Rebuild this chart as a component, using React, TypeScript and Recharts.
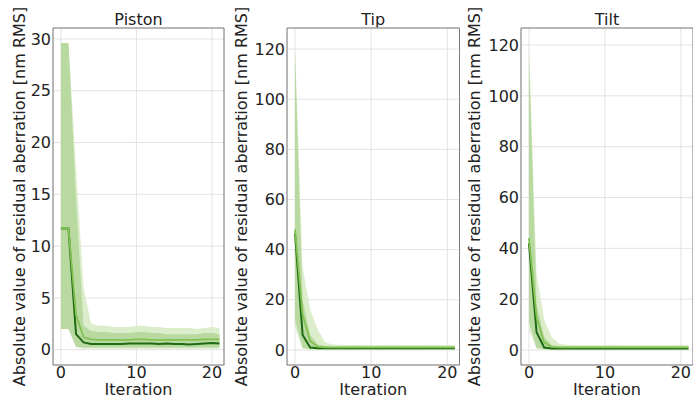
import { ComposedChart, Area, Line, XAxis, YAxis, CartesianGrid, ReferenceArea } from 'recharts'

const FONT = '"DejaVu Sans", sans-serif'
const TEXT = '#222222'
const Y_LABEL = 'Absolute value of residual aberration [nm RMS]'

const iterations = [0, 1, 2, 3, 4, 5, 6, 7, 8, 9, 10, 11, 12, 13, 14, 15, 16, 17, 18, 19, 20, 21]
const xTicks = [0, 10, 20]

// Piston
const pistonMedian = [11.7, 11.7, 1.5, 0.7, 0.55, 0.55, 0.55, 0.55, 0.55, 0.6, 0.6, 0.6, 0.6, 0.55, 0.6, 0.55, 0.55, 0.5, 0.55, 0.6, 0.65, 0.6]
const pistonMean = [11.7, 11.7, 3.4, 1.2, 1.0, 0.95, 0.95, 0.95, 0.95, 0.95, 1.0, 1.0, 0.95, 0.95, 0.95, 0.95, 0.95, 0.95, 0.95, 1.0, 1.0, 1.0]
const pistonInnerLo = [2.0, 2.0, 0.3, 0.2, 0.2, 0.2, 0.2, 0.2, 0.2, 0.2, 0.2, 0.2, 0.2, 0.2, 0.2, 0.2, 0.2, 0.2, 0.2, 0.2, 0.2, 0.2]
const pistonInnerHi = [29.6, 29.6, 14.5, 2.3, 1.8, 1.7, 1.7, 1.6, 1.6, 1.6, 1.7, 1.7, 1.6, 1.6, 1.5, 1.5, 1.5, 1.5, 1.5, 1.6, 1.6, 1.5]
const pistonOuterLo = [2.0, 2.0, 0.2, 0.1, 0.1, 0.1, 0.1, 0.1, 0.1, 0.1, 0.1, 0.1, 0.1, 0.1, 0.1, 0.1, 0.1, 0.1, 0.1, 0.1, 0.1, 0.1]
const pistonOuterHi = [29.6, 29.6, 17.5, 6.0, 2.5, 2.3, 2.3, 2.2, 2.2, 2.2, 2.3, 2.3, 2.2, 2.2, 2.1, 2.1, 2.1, 2.1, 2.0, 2.1, 2.2, 2.1]
const pistonTicks = [0, 5, 10, 15, 20, 25, 30]

// Tip
const tipMedian = [46.5, 6.0, 1.0, 0.7, 0.7, 0.7, 0.7, 0.7, 0.7, 0.7, 0.7, 0.7, 0.7, 0.7, 0.7, 0.7, 0.7, 0.7, 0.7, 0.7, 0.7, 0.7]
const tipMean = [48.0, 14.0, 3.5, 1.3, 1.0, 1.0, 1.0, 1.0, 1.0, 1.0, 1.0, 1.0, 1.0, 1.0, 1.0, 1.0, 1.0, 1.0, 1.0, 1.0, 1.0, 1.0]
const tipInnerLo = [12.0, 1.0, 0.3, 0.2, 0.2, 0.2, 0.2, 0.2, 0.2, 0.2, 0.2, 0.2, 0.2, 0.2, 0.2, 0.2, 0.2, 0.2, 0.2, 0.2, 0.2, 0.2]
const tipInnerHi = [118.0, 20.0, 6.0, 2.2, 1.6, 1.5, 1.5, 1.5, 1.5, 1.5, 1.5, 1.5, 1.5, 1.5, 1.5, 1.5, 1.5, 1.5, 1.5, 1.5, 1.5, 1.5]
const tipOuterLo = [9.0, 0.4, 0.1, 0.1, 0.1, 0.1, 0.1, 0.1, 0.1, 0.1, 0.1, 0.1, 0.1, 0.1, 0.1, 0.1, 0.1, 0.1, 0.1, 0.1, 0.1, 0.1]
const tipOuterHi = [122.2, 33.0, 16.0, 8.0, 3.0, 2.2, 2.1, 2.0, 2.0, 2.1, 2.0, 2.0, 2.0, 2.1, 2.0, 2.0, 2.0, 2.0, 2.1, 2.0, 2.0, 2.0]
const tipTicks = [0, 20, 40, 60, 80, 100, 120]

// Tilt
const tiltMedian = [42.0, 7.0, 1.0, 0.6, 0.6, 0.6, 0.6, 0.6, 0.6, 0.6, 0.6, 0.6, 0.6, 0.6, 0.6, 0.6, 0.6, 0.6, 0.6, 0.6, 0.6, 0.6]
const tiltMean = [44.0, 13.0, 3.0, 1.2, 1.0, 1.0, 1.0, 1.0, 1.0, 1.0, 1.0, 1.0, 1.0, 1.0, 1.0, 1.0, 1.0, 1.0, 1.0, 1.0, 1.0, 1.0]
const tiltInnerLo = [11.0, 1.0, 0.3, 0.2, 0.2, 0.2, 0.2, 0.2, 0.2, 0.2, 0.2, 0.2, 0.2, 0.2, 0.2, 0.2, 0.2, 0.2, 0.2, 0.2, 0.2, 0.2]
const tiltInnerHi = [115.0, 18.0, 5.0, 2.0, 1.5, 1.5, 1.5, 1.5, 1.5, 1.5, 1.5, 1.5, 1.5, 1.5, 1.5, 1.5, 1.5, 1.5, 1.5, 1.5, 1.5, 1.5]
const tiltOuterLo = [8.0, 0.4, 0.1, 0.1, 0.1, 0.1, 0.1, 0.1, 0.1, 0.1, 0.1, 0.1, 0.1, 0.1, 0.1, 0.1, 0.1, 0.1, 0.1, 0.1, 0.1, 0.1]
const tiltOuterHi = [120.6, 30.0, 12.0, 5.0, 2.5, 2.1, 2.0, 2.0, 2.0, 2.0, 2.0, 2.1, 2.0, 2.0, 2.0, 2.0, 2.0, 2.0, 2.0, 2.0, 2.1, 2.0]
const tiltTicks = [0, 20, 40, 60, 80, 100, 120]

const X_DOMAIN: [number, number] = [-1.05, 21.6]

function makeRows(median: number[], mean: number[], innerLo: number[], innerHi: number[], outerLo: number[], outerHi: number[]) {
  return iterations.map((it, i) => ({
    it,
    median: median[i],
    mean: mean[i],
    inner: [innerLo[i], innerHi[i]],
    outer: [outerLo[i], outerHi[i]],
  }))
}

interface PanelProps {
  title: string
  left: number
  width: number
  yWidth: number
  right: number
  yDomain: [number, number]
  yTicks: number[]
  labelOffset: number
  rows: ReturnType<typeof makeRows>
}

function Panel({ title, left, width, yWidth, right, yDomain, yTicks, labelOffset, rows }: PanelProps) {
  const plotW = width - yWidth - right
  return (
    <div style={{ position: 'absolute', left, top: 0, width, height: 402 }}>
      <div style={{
        position: 'absolute', left: yWidth, width: plotW, top: 12, textAlign: 'center',
        fontFamily: FONT, fontSize: 16, lineHeight: '16px', color: TEXT,
      }}>{title}</div>
      <ComposedChart width={width} height={402} data={rows} margin={{ top: 28, right, bottom: 0, left: 0 }}>
        <CartesianGrid stroke="#e3e3e3" strokeWidth={1} />
        <XAxis
          dataKey="it"
          type="number"
          domain={X_DOMAIN}
          ticks={xTicks}
          allowDataOverflow
          height={37}
          axisLine={false}
          tickLine={false}
          tickSize={0}
          tickMargin={1.5}
          tick={{ fill: TEXT, fontSize: 16, fontFamily: FONT }}
          label={{ value: 'Iteration', position: 'insideBottom', offset: 7, fill: TEXT, fontSize: 16, fontFamily: FONT }}
        />
        <YAxis
          type="number"
          domain={yDomain}
          ticks={yTicks}
          allowDataOverflow
          width={yWidth}
          axisLine={false}
          tickLine={false}
          tickSize={0}
          tickMargin={2}
          tick={{ fill: TEXT, fontSize: 16, fontFamily: FONT }}
          label={{
            value: Y_LABEL, angle: -90, position: 'insideLeft', offset: labelOffset,
            textAnchor: 'middle', fill: TEXT, fontSize: 16, fontFamily: FONT,
          }}
        />
        <Area dataKey="outer" type="linear" stroke="none" fill="#d6eac3" fillOpacity={0.85} isAnimationActive={false} dot={false} activeDot={false} />
        <Area dataKey="inner" type="linear" stroke="none" fill="#b2d596" fillOpacity={0.85} isAnimationActive={false} dot={false} activeDot={false} />
        <Line dataKey="median" type="linear" stroke="#1f6a14" strokeWidth={2} dot={false} activeDot={false} isAnimationActive={false} />
        <Line dataKey="mean" type="linear" stroke="#82c152" strokeWidth={1.8} dot={false} activeDot={false} isAnimationActive={false} />
        <ReferenceArea
          x1={X_DOMAIN[0]} x2={X_DOMAIN[1]} y1={yDomain[0]} y2={yDomain[1]}
          fill="none" fillOpacity={0} stroke="#7c7c7c" strokeWidth={1} ifOverflow="visible"
        />
      </ComposedChart>
    </div>
  )
}

export default function App() {
  return (
    <div style={{ position: 'absolute', left: 0, top: 0, width: 693, height: 402, overflow: 'hidden', background: '#fff' }}>
      <Panel
        title="Piston" left={0} width={226} yWidth={53} right={2}
        yDomain={[-1.48, 31.06]} yTicks={pistonTicks} labelOffset={19.8}
        rows={makeRows(pistonMedian, pistonMean, pistonInnerLo, pistonInnerHi, pistonOuterLo, pistonOuterHi)}
      />
      <Panel
        title="Tip" left={230} width={232} yWidth={57} right={2.5}
        yDomain={[-6.0, 128.4]} yTicks={tipTicks} labelOffset={11.3}
        rows={makeRows(tipMedian, tipMean, tipInnerLo, tipInnerHi, tipOuterLo, tipOuterHi)}
      />
      <Panel
        title="Tilt" left={463} width={230} yWidth={58} right={0}
        yDomain={[-5.9, 126.7]} yTicks={tiltTicks} labelOffset={11.8}
        rows={makeRows(tiltMedian, tiltMean, tiltInnerLo, tiltInnerHi, tiltOuterLo, tiltOuterHi)}
      />
    </div>
  )
}
